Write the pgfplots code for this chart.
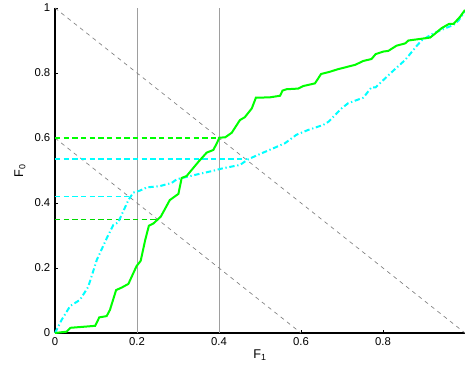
\documentclass[border=0pt]{standalone}
\usepackage{pgfplots}
\pgfplotsset{compat=1.18}
\usepackage{fontspec}
\setmainfont{Liberation Sans}
\usetikzlibrary{calc}
\definecolor{mgreen}{rgb}{0,1,0}
\definecolor{mcyan}{rgb}{0,1,1}
\definecolor{lgrey}{rgb}{0.62,0.62,0.62}
\definecolor{dgrey}{rgb}{0.5,0.5,0.5}
\pgfplotstableread{
x y
0 0
0.028 0.004
0.038 0.016
0.098 0.022
0.108 0.048
0.126 0.052
0.134 0.071
0.149 0.132
0.163 0.14
0.179 0.151
0.199 0.206
0.209 0.222
0.22 0.286
0.229 0.33
0.24 0.337
0.258 0.358
0.28 0.409
0.301 0.428
0.309 0.477
0.321 0.483
0.35 0.527
0.37 0.555
0.386 0.563
0.394 0.582
0.401 0.601
0.415 0.602
0.431 0.616
0.451 0.655
0.463 0.664
0.48 0.691
0.49 0.724
0.524 0.725
0.549 0.73
0.555 0.746
0.565 0.75
0.593 0.752
0.606 0.76
0.634 0.768
0.649 0.797
0.671 0.804
0.691 0.812
0.732 0.825
0.752 0.837
0.772 0.843
0.782 0.858
0.801 0.866
0.813 0.868
0.833 0.884
0.854 0.891
0.862 0.9
0.886 0.904
0.915 0.909
0.923 0.917
0.943 0.938
0.961 0.951
0.972 0.951
0.988 0.973
1 0.994
}\greendata
\pgfplotstableread{
x y
0 0
0.016 0.04
0.037 0.083
0.061 0.102
0.081 0.142
0.102 0.225
0.126 0.291
0.142 0.332
0.154 0.34
0.179 0.409
0.191 0.432
0.207 0.438
0.224 0.448
0.256 0.452
0.285 0.462
0.297 0.473
0.35 0.489
0.382 0.498
0.41 0.507
0.451 0.517
0.472 0.535
0.504 0.553
0.532 0.568
0.561 0.584
0.589 0.61
0.618 0.625
0.654 0.64
0.667 0.65
0.699 0.691
0.715 0.707
0.752 0.724
0.772 0.756
0.782 0.756
0.825 0.807
0.854 0.84
0.882 0.883
0.894 0.9
0.923 0.922
0.951 0.937
0.972 0.948
0.984 0.961
1 0.99
}\cyandata
\begin{document}
\begin{tikzpicture}
\begin{axis}[
  name=ax,
  scale only axis,
  width=307.5pt, height=243.75pt,
  xmin=0, xmax=1, ymin=0, ymax=1,
  axis x line*=bottom, axis y line*=left,
  axis line style={black, line width=0.8pt, -},
  xtick={0,0.2,0.4,0.6,0.8},
  ytick={0,0.2,0.4,0.6,0.8,1},
  xticklabels={0,0.2,0.4,0.6,0.8},
  yticklabels={0,0.2,0.4,0.6,0.8,1},
  tick align=inside,
  major tick length=2.5pt,
  tick style={black, line width=0.6pt},
  ticklabel style={font=\fontsize{8.5}{10}\selectfont},
  xlabel={F\textsubscript{1}}, ylabel={F\textsubscript{0}},
  label style={font=\fontsize{9.5}{11}\selectfont},
  xlabel style={yshift=4pt},
  ylabel style={yshift=0pt},
  clip=false,
]
\addplot[lgrey, line width=0.7pt] coordinates {(0.2,0) (0.2,1)};
\addplot[lgrey, line width=0.7pt] coordinates {(0.4,0) (0.4,1)};
\addplot[dgrey, line width=0.5pt, dash pattern=on 3pt off 3pt] coordinates {(0,1) (1,0)};
\addplot[dgrey, line width=0.5pt, dash pattern=on 3pt off 3pt] coordinates {(0,0.6) (0.6,0)};
\addplot[mgreen, line width=1pt, dash pattern=on 4pt off 2.5pt] coordinates {(0,0.6) (0.4,0.6)};
\addplot[mgreen!85!black, line width=1pt, dash pattern=on 4pt off 2.5pt] coordinates {(0,0.35) (0.25,0.35)};
\addplot[mcyan, line width=1pt, dash pattern=on 4pt off 2.5pt] coordinates {(0,0.535) (0.467,0.535)};
\addplot[mcyan, line width=1.1pt, dash pattern=on 4pt off 2.5pt] coordinates {(0,0.42) (0.18,0.42)};
\addplot[mcyan, line width=1.5pt, dash pattern=on 4pt off 2pt on 1pt off 2pt] table {\cyandata};
\addplot[mgreen, line width=1.5pt] table {\greendata};
\end{axis}
\pgfresetboundingbox
\path ($(ax.south west)+(-41.25pt,-24.75pt)$) rectangle ($(ax.north east)+(0,6pt)$);
\end{tikzpicture}
\end{document}
